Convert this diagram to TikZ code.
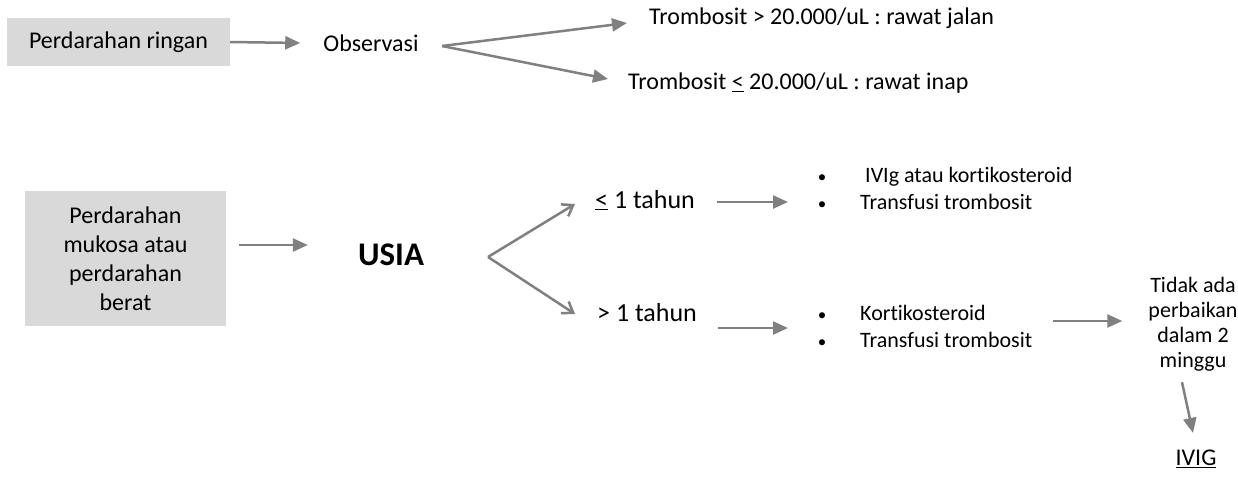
\documentclass[tikz,border=0pt]{standalone}
\usepackage{fontspec}
\setmainfont{Carlito}[Ligatures=NoCommon]
\usepackage{tikz}
\usetikzlibrary{arrows.meta}
\definecolor{boxgray}{RGB}{217,217,217}
\definecolor{arrowgray}{RGB}{128,128,128}
\newcommand{\blt}{\makebox[8pt]{\fontsize{17}{17}\selectfont\textbullet}}

\begin{document}
\begin{tikzpicture}[x=1pt,y=-1pt,
  txt/.style={inner sep=0pt,font=\fontsize{24}{29}\selectfont},
  graybox/.style={txt,fill=boxgray,align=center},
  small/.style={inner sep=0pt,align=left,font=\fontsize{22}{27}\selectfont},
  arr/.style={draw=arrowgray,line width=2.5pt,-{Triangle[length=15pt,width=13pt]}},
  barb/.style={draw=arrowgray,line width=2.5pt,-{Straight Barb[length=10pt,width=14pt]}}]
\useasboundingbox (0,0) rectangle (1238,480);

\node[graybox,minimum width=223pt,minimum height=48pt] (ringan) at (118.5,42) {Perdarahan ringan};
\node[txt] (obs) at (371,43) {Observasi};
\coordinate (fork) at (442,46);
\node[txt,anchor=west] (jalan) at (649,18) {Trombosit > 20.000/uL : rawat jalan};
\node[txt,anchor=west] (inap) at (628,83) {Trombosit \underline{<} 20.000/uL : rawat inap};

\node[graybox,minimum width=201pt,minimum height=135pt] (berat) at (125.5,258.5) {Perdarahan\\mukosa atau\\perdarahan\\berat};
\node[txt,font=\fontsize{33}{40}\selectfont\bfseries] (usia) at (391,255) {USIA};
\coordinate (fork2) at (488,257);
\node[txt,anchor=west,font=\fontsize{26}{31}\selectfont] (le1) at (595,200) {\underline{<} 1 tahun};
\node[txt,anchor=west,font=\fontsize{26}{31}\selectfont] (gt1) at (597,313) {> 1 tahun};

\node[small,anchor=west] (lst1) at (818,188.5) {\blt\hspace{39pt}IVIg atau kortikosteroid\\\blt\hspace{34pt}Transfusi trombosit};
\node[small,anchor=west] (lst2) at (818,326.5) {\blt\hspace{34pt}Kortikosteroid\\\blt\hspace{34pt}Transfusi trombosit};

\node[small,align=center,font=\fontsize{22}{25}\selectfont] (tidak) at (1193,324.5) {Tidak ada\\perbaikan\\dalam 2\\minggu};
\node[txt] (ivig) at (1196,458.5) {\underline{IVIG}};

\draw[arr] (ringan.east) -- ([xshift=-23pt]obs.west);
\draw[arr] (fork) -- ([xshift=-22pt,yshift=-5pt]jalan.west);
\draw[arr] (fork) -- ([xshift=-20pt,yshift=4pt]inap.west);

\draw[arr] ([xshift=13pt,yshift=13.5pt]berat.east) -- ([xshift=-50pt,yshift=10pt]usia.west);
\draw[barb] (fork2) -- ([xshift=-20pt,yshift=-4pt]le1.west);
\draw[barb] (fork2) -- ([xshift=-22pt,yshift=-1pt]gt1.west);
\draw[arr] ([xshift=22pt,yshift=-2pt]le1.east) -- ([xshift=-30pt,yshift=-13.5pt]lst1.west);
\draw[arr] ([xshift=21pt,yshift=-15pt]gt1.east) -- ([xshift=-30pt,yshift=-1.5pt]lst2.west);
\draw[arr] ([xshift=21pt,yshift=5.5pt]lst2.east) -- ([xshift=-26pt,yshift=3.5pt]tidak.west);
\draw[arr] ([xshift=-11pt,yshift=-10.5pt]tidak.south) -- ([xshift=-3pt,yshift=16.5pt]ivig.north);
\end{tikzpicture}
\end{document}
